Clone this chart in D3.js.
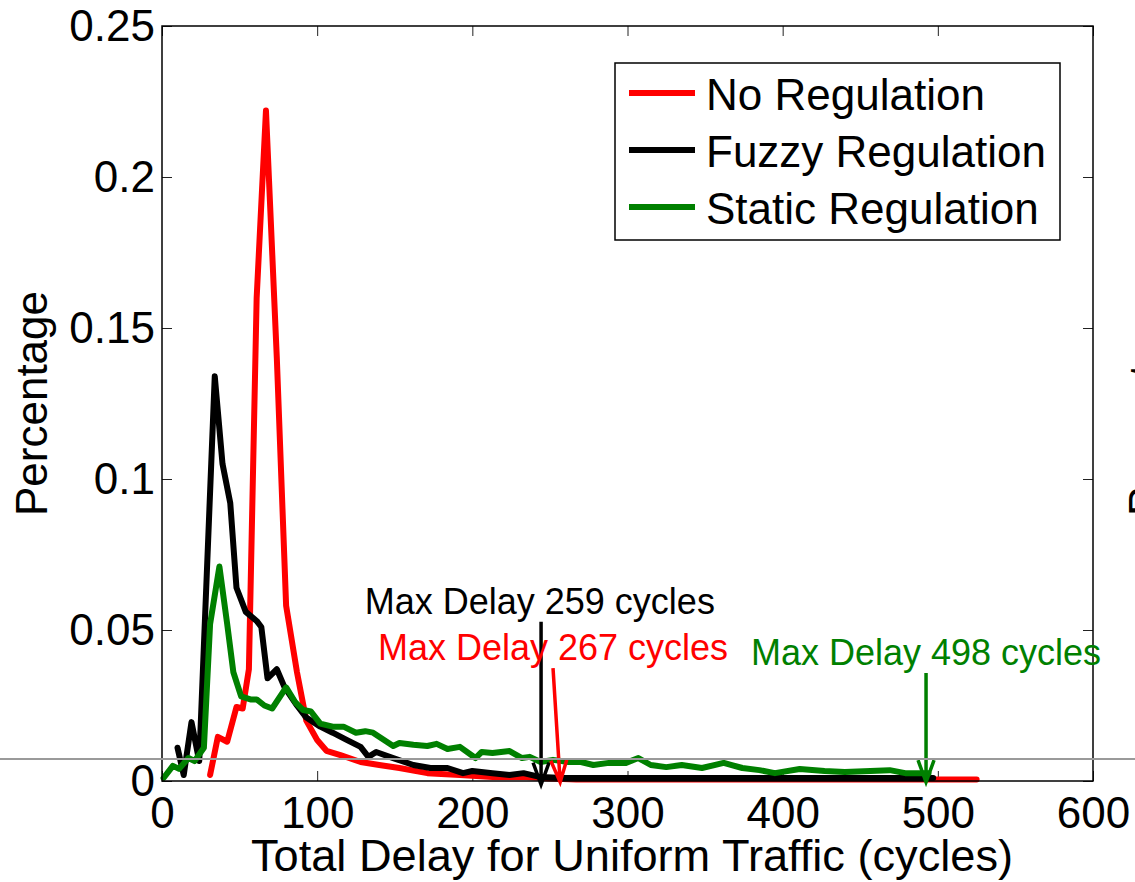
<!DOCTYPE html>
<html>
<head>
<meta charset="utf-8">
<script src="https://cdn.jsdelivr.net/npm/d3@7"></script>
<style>
  body { margin: 0; background: #fff; }
  svg { display: block; font-family: "Liberation Sans", Arial, Helvetica, sans-serif; }
</style>
</head>
<body>
<svg id="chart"></svg>
<script>
//DATA
var seriesNames = ['No Regulation', 'Fuzzy Regulation', 'Static Regulation'];

var noRegDelay = [31, 36, 42, 48, 52, 56, 61, 67, 74, 80, 87, 93, 100, 106, 115, 128, 140, 153, 171, 192, 213, 235, 250, 267, 525];
var noRegPct = [0.002, 0.0146, 0.013, 0.0245, 0.024, 0.037, 0.160, 0.222, 0.140, 0.058, 0.036, 0.020, 0.0136, 0.010, 0.0086, 0.0063,
                0.0053, 0.0043, 0.0026, 0.002, 0.0013, 0.0013, 0.0008, 0.0005, 0.0005];

var fuzzyDelay = [10, 14, 19, 24, 34, 39, 44, 48, 54, 61, 64, 68, 74, 79, 87, 93, 102, 110, 119, 128, 133, 138, 149, 162, 173, 184,
                  194, 200, 213, 224, 233, 244, 259, 350, 497];
var fuzzyPct = [0.011, 0.002, 0.0195, 0.0066, 0.134, 0.105, 0.092, 0.064, 0.056, 0.053, 0.051, 0.034, 0.037, 0.031, 0.025, 0.021,
                0.018, 0.016, 0.0136, 0.0113, 0.008, 0.0096, 0.0076, 0.0053, 0.0043, 0.0043, 0.0026, 0.0033, 0.0026, 0.002, 0.0026,
                0.0013, 0.001, 0.001, 0.001];

var staticDelay = [1, 7, 11, 17, 21, 27, 31, 37, 42, 46, 51, 57, 61, 66, 71, 80, 86, 91, 96, 102, 110, 117, 125, 131, 136, 149, 153,
                   162, 171, 177, 184, 192, 202, 206, 213, 224, 232, 237, 244, 252, 262, 270, 278, 288, 299, 307, 315, 325, 335, 348,
                   362, 374, 385, 395, 411, 427, 440, 469, 479, 494];
var staticPct = [0.001, 0.005, 0.004, 0.0076, 0.0066, 0.011, 0.052, 0.071, 0.052, 0.036, 0.028, 0.027, 0.027, 0.025, 0.024, 0.031,
                 0.026, 0.0235, 0.023, 0.019, 0.018, 0.018, 0.016, 0.0165, 0.016, 0.0116, 0.0126, 0.012, 0.0116, 0.0123, 0.0106,
                 0.0113, 0.0076, 0.0096, 0.0093, 0.0099, 0.0076, 0.008, 0.0063, 0.007, 0.0063, 0.0063, 0.0053, 0.006, 0.006, 0.0076,
                 0.0053, 0.0046, 0.0053, 0.0043, 0.006, 0.0043, 0.0036, 0.0026, 0.004, 0.0033, 0.003, 0.0036, 0.0026, 0.0026];

var xTicks = [0, 100, 200, 300, 400, 500, 600];
var yTicks = [0, 0.05, 0.1, 0.15, 0.2, 0.25];

//max delay annotations: label, which series, arrow top, arrow tip, label anchor (data space)
var annoLabels = ['Max Delay 259 cycles', 'Max Delay 267 cycles', 'Max Delay 498 cycles'];
var annoSeries = [1, 0, 2];
var annoTop = [[244.3, 0.0527], [252, 0.0374], [492.4, 0.0358]];
var annoTip = [[244.3, -0.0012], [256.6, -0.0004], [492.4, -0.0004]];
var annoText = [[243.5, 0.0553], [252, 0.0400], [492.4, 0.0384]];

//stray rule from the page layout behind the figure
var pageRuleLevel = 0.0073;

function delayChart() {
    var colors = ['#ff0000', '#000000', '#008000'];
    var fontSize = 44;

    var svg = d3.select('#chart')
        .attr('width', 1135)
        .attr('height', 882)
        .style('background-color', '#fff');

    var margin = {top: 26, right: 42, bottom: 101, left: 162},
        width = +svg.attr('width') - margin.left - margin.right,
        height = +svg.attr('height') - margin.top - margin.bottom;

    var x = d3.scaleLinear().domain([0, 600]).range([0, width]);
    var y = d3.scaleLinear().domain([0, 0.25]).range([height, 0]);

    var canvas = svg.append('g')
        .attr('transform', 'translate(' + margin.left + ',' + margin.top + ')');

    //gray page rule running across the whole picture
    svg.append('line')
        .attr('x1', 0).attr('x2', +svg.attr('width'))
        .attr('y1', margin.top + y(pageRuleLevel)).attr('y2', margin.top + y(pageRuleLevel))
        .attr('stroke', '#9a9a9a')
        .attr('stroke-width', 2);

    //axes with inward ticks
    function styleAxis(g, labels) {
        g.select('.domain').remove();
        g.selectAll('.tick line').attr('stroke', '#222').attr('stroke-width', 1);
        g.selectAll('.tick text')
            .attr('fill', '#000')
            .style('font-size', fontSize + 'px')
            .style('display', labels ? null : 'none');
    }

    canvas.append('g')
        .attr('transform', 'translate(0,' + height + ')')
        .call(d3.axisBottom(x).tickValues(xTicks).tickFormat(d3.format('d')).tickSizeInner(-10).tickSizeOuter(0).tickPadding(16))
        .call(g => styleAxis(g, true));
    canvas.append('g')
        .call(d3.axisTop(x).tickValues(xTicks).tickSizeInner(-10).tickSizeOuter(0))
        .call(g => styleAxis(g, false));
    canvas.append('g')
        .call(d3.axisLeft(y).tickValues(yTicks).tickFormat(d => d === 0 ? '0' : String(d)).tickSizeInner(-10).tickSizeOuter(0).tickPadding(7))
        .call(g => styleAxis(g, true));
    canvas.append('g')
        .attr('transform', 'translate(' + width + ',0)')
        .call(d3.axisRight(y).tickValues(yTicks).tickSizeInner(-10).tickSizeOuter(0))
        .call(g => styleAxis(g, false));

    //series lines
    var series = [
        d3.zip(noRegDelay, noRegPct),
        d3.zip(fuzzyDelay, fuzzyPct),
        d3.zip(staticDelay, staticPct)
    ];
    var line = d3.line().x(d => x(d[0])).y(d => y(d[1]));

    canvas.append('g')
        .attr('class', 'series')
        .selectAll('path').data(series)
            .enter().append('path')
                .attr('d', line)
                .attr('fill', 'none')
                .attr('stroke', (d, i) => colors[i])
                .attr('stroke-width', 6)
                .attr('stroke-linejoin', 'round')
                .attr('stroke-linecap', 'round');

    //frame
    canvas.append('rect')
        .attr('width', width)
        .attr('height', height)
        .attr('fill', 'none')
        .attr('stroke', '#000')
        .attr('stroke-width', 1.5);

    //annotations
    var anno = canvas.append('g').attr('class', 'annotations');
    annoLabels.forEach(function(label, i) {
        var c = colors[annoSeries[i]];
        var x0 = x(annoTop[i][0]), y0 = y(annoTop[i][1]);
        var x1 = x(annoTip[i][0]), y1 = y(annoTip[i][1]);
        var ang = Math.atan2(y1 - y0, x1 - x0), len = 22, half = 8;
        var bx = x1 - len * Math.cos(ang), by = y1 - len * Math.sin(ang);
        var px = -Math.sin(ang) * half, py = Math.cos(ang) * half;

        anno.append('path')
            .attr('d', 'M' + x0 + ',' + y0 + 'L' + x1 + ',' + y1 +
                       'M' + (bx + px) + ',' + (by + py) + 'L' + x1 + ',' + y1 + 'L' + (bx - px) + ',' + (by - py))
            .attr('fill', 'none')
            .attr('stroke', c)
            .attr('stroke-width', 3.5);

        anno.append('text')
            .attr('x', x(annoText[i][0]))
            .attr('y', y(annoText[i][1]))
            .attr('text-anchor', 'middle')
            .attr('fill', c)
            .style('font-size', '36px')
            .text(label);
    });

    //legend
    var legend = svg.append('g').attr('class', 'legend');
    legend.append('rect')
        .attr('x', 615).attr('y', 63)
        .attr('width', 445).attr('height', 177)
        .attr('fill', '#fff')
        .attr('stroke', '#000')
        .attr('stroke-width', 1.5);
    seriesNames.forEach(function(name, i) {
        var ly = 93 + i * 57;
        legend.append('line')
            .attr('x1', 629).attr('x2', 695)
            .attr('y1', ly).attr('y2', ly)
            .attr('stroke', colors[i])
            .attr('stroke-width', 6);
        legend.append('text')
            .attr('x', 706)
            .attr('y', ly + 17)
            .style('font-size', fontSize + 'px')
            .text(name);
    });

    //axis titles
    svg.append('text')
        .attr('x', 632)
        .attr('y', 871)
        .attr('text-anchor', 'middle')
        .attr('textLength', 762)
        .attr('lengthAdjust', 'spacingAndGlyphs')
        .style('font-size', fontSize + 'px')
        .text('Total Delay for Uniform Traffic (cycles)');

    svg.append('text')
        .attr('transform', 'translate(47,' + (margin.top + y(0.125)) + ') rotate(-90)')
        .attr('text-anchor', 'middle')
        .style('font-size', fontSize + 'px')
        .text('Percentage');

    //edge of the neighbouring figure's y title
    svg.append('text')
        .attr('transform', 'translate(1160,' + (margin.top + y(0.125)) + ') rotate(-90)')
        .attr('text-anchor', 'middle')
        .style('font-size', fontSize + 'px')
        .text('Percentage');
}

delayChart();
</script>
</body>
</html>
